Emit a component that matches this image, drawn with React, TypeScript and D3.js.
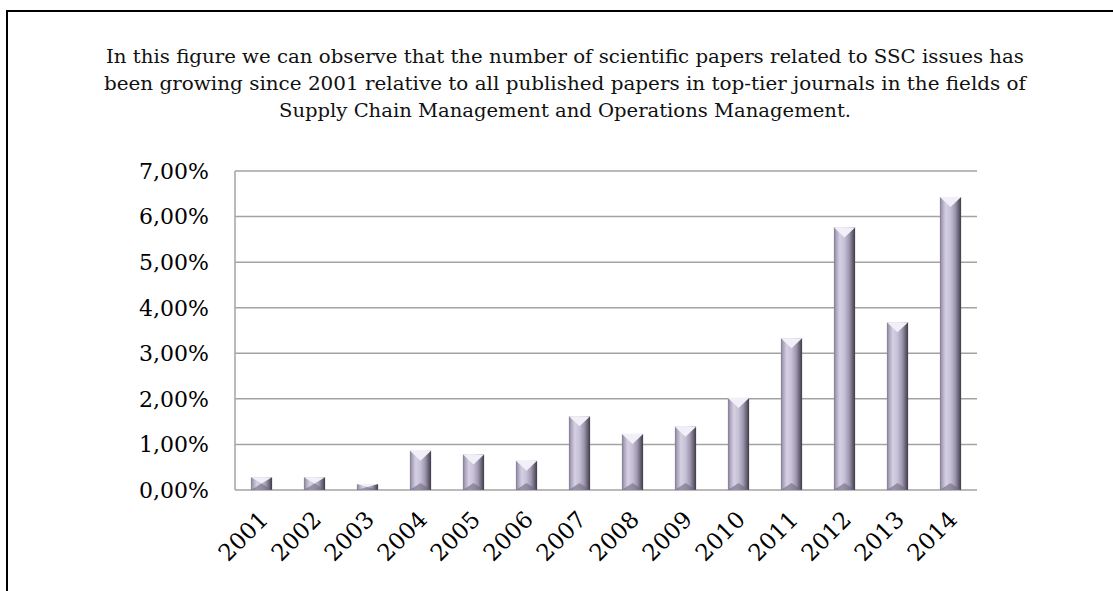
import { useEffect, useRef } from "react";
import * as d3 from "d3";

const years = ["2001", "2002", "2003", "2004", "2005", "2006", "2007", "2008", "2009", "2010", "2011", "2012", "2013", "2014"];
const shares = [0.28, 0.28, 0.13, 0.86, 0.78, 0.64, 1.62, 1.23, 1.39, 2.02, 3.33, 5.76, 3.68, 6.43];
const yTicks = [0, 1, 2, 3, 4, 5, 6, 7];
const captionLines = [
	"In this figure we can observe that the number of scientific papers related to SSC issues has",
	"been growing since 2001 relative to all published papers in top-tier journals in the fields of",
	"Supply Chain Management and Operations Management.",
];
// rendered widths of the caption lines in the source (Cambria-like face)
const captionWidths = [918, 922, 572];

const W = 1113;
const H = 591;

export default function App() {
	const svgRef = useRef<SVGSVGElement>(null);

	useEffect(() => {
		if (!svgRef.current) return;
		const svg = d3.select(svgRef.current);
		svg.selectAll("*").remove();

		const plot = { left: 235, right: 977, top: 171, bottom: 490 };

		const x = d3.scaleBand().domain(years).range([plot.left, plot.right]).paddingInner(0.6).paddingOuter(0.3);
		const y = d3.scaleLinear().domain([0, 7]).range([plot.bottom, plot.top]);

		const defs = svg.append("defs");
		const face = defs.append("linearGradient").attr("id", "face").attr("x1", 0).attr("x2", 1).attr("y1", 0).attr("y2", 0);
		[
			[0, "#7f788f"],
			[0.1, "#aaa3ba"],
			[0.28, "#d5d0e3"],
			[0.5, "#c6c0d6"],
			[0.72, "#9e97ae"],
			[0.86, "#6f697c"],
			[1, "#3f3a48"],
		].forEach(([o, c]) => face.append("stop").attr("offset", o as number).attr("stop-color", c as string));

		// frame
		svg.append("path")
			.attr("d", `M${W},11H7V${H}`)
			.attr("fill", "none")
			.attr("stroke", "#000")
			.attr("stroke-width", 2);

		// caption
		svg.append("g")
			.selectAll("text")
			.data(captionLines)
			.join("text")
			.attr("x", 565)
			.attr("y", (_, i) => 63 + i * 27)
			.attr("text-anchor", "middle")
			.attr("font-family", "DejaVu Serif")
			.attr("font-size", 18.5)
			.attr("textLength", (_, i) => captionWidths[i])
			.attr("lengthAdjust", "spacingAndGlyphs")
			.attr("fill", "#111")
			.text((d) => d);

		// gridlines
		svg.append("g")
			.selectAll("line")
			.data(yTicks)
			.join("line")
			.attr("x1", plot.left)
			.attr("x2", plot.right)
			.attr("y1", (d) => y(d))
			.attr("y2", (d) => y(d))
			.attr("stroke", "#a3a3a3")
			.attr("stroke-width", 1.5);

		svg.append("line")
			.attr("x1", plot.left)
			.attr("x2", plot.left)
			.attr("y1", plot.top)
			.attr("y2", plot.bottom)
			.attr("stroke", "#a3a3a3")
			.attr("stroke-width", 1.5);

		// y labels
		svg.append("g")
			.selectAll("text")
			.data(yTicks)
			.join("text")
			.attr("x", 209)
			.attr("y", (d) => y(d))
			.attr("dy", "0.36em")
			.attr("text-anchor", "end")
			.attr("font-family", "DejaVu Serif")
			.attr("font-size", 22)
			.attr("fill", "#000")
			.text((d) => d3.format(".2f")(d).replace(".", ",") + "%");

		// bars
		const bw = x.bandwidth();
		const bars = svg.append("g")
			.selectAll("g")
			.data(years.map((yr, i) => ({ yr, v: shares[i] })))
			.join("g")
			.attr("transform", (d) => `translate(${x(d.yr)},0)`);

		bars.append("rect")
			.attr("x", 0)
			.attr("width", bw)
			.attr("y", (d) => y(d.v))
			.attr("height", (d) => plot.bottom - y(d.v))
			.attr("fill", "url(#face)");

		bars.append("path")
			.attr("d", (d) => {
				const t = y(d.v);
				const depth = Math.min(10, (plot.bottom - t) / 2);
				return `M0,${t}H${bw}L${bw / 2},${t + depth}Z`;
			})
			.attr("fill", "#f1eff7");

		bars.append("path")
			.attr("d", (d) => {
				const t = y(d.v);
				const depth = Math.min(7, (plot.bottom - t) / 2);
				return `M0,${plot.bottom}H${bw}L${bw / 2},${plot.bottom - depth}Z`;
			})
			.attr("fill", "#6f6980")
			.attr("opacity", 0.6);

		// x labels
		svg.append("g")
			.selectAll("text")
			.data(years)
			.join("text")
			.attr("transform", (d) => `translate(${(x(d) ?? 0) + bw / 2 + 8},${plot.bottom + 31}) rotate(-45)`)
			.attr("text-anchor", "end")
			.attr("font-family", "DejaVu Serif")
			.attr("font-size", 23)
			.attr("fill", "#000")
			.text((d) => d);
	}, []);

	return (
		<svg
			ref={svgRef}
			width={W}
			height={H}
			style={{ position: "absolute", left: 0, top: 0, background: "#fff" }}
		/>
	);
}
